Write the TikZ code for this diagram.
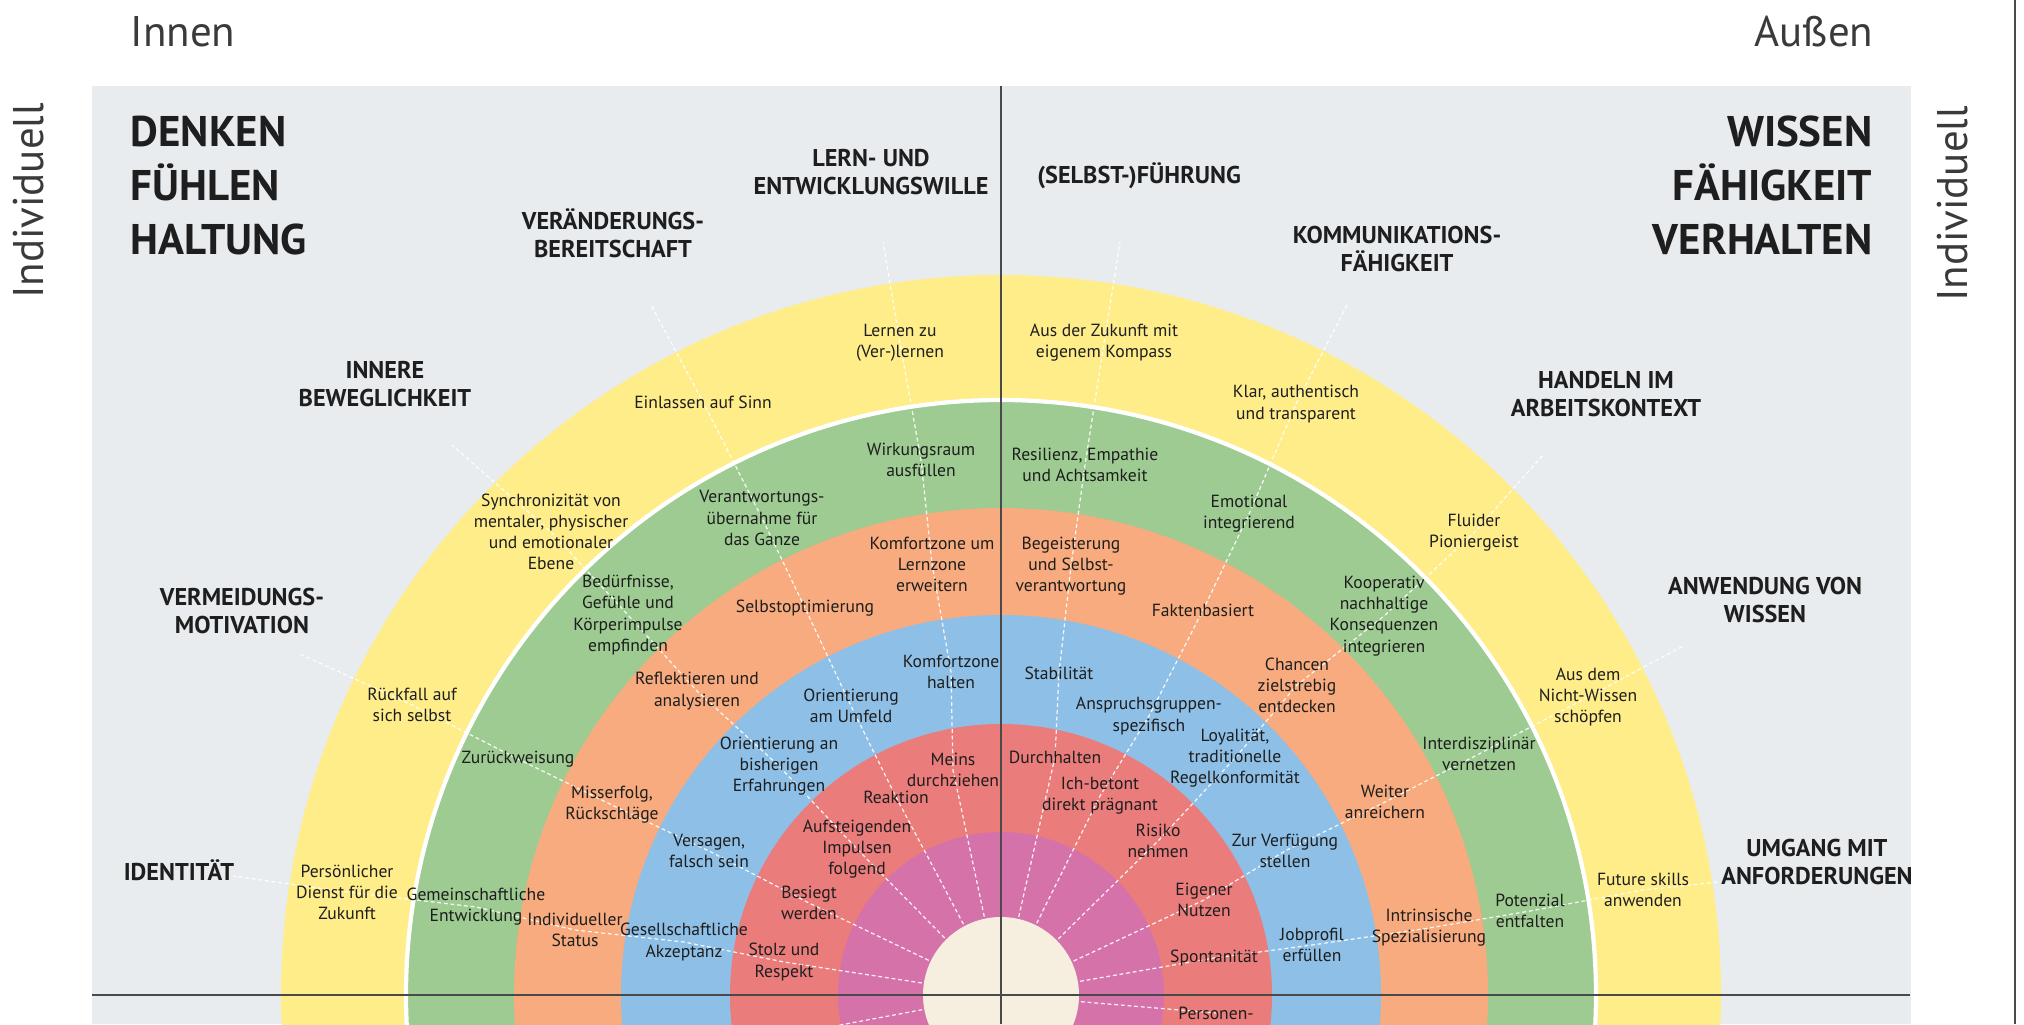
\documentclass[tikz,border=0pt]{standalone}
\usepackage{fontspec}
\setmainfont{PT Sans}
\usetikzlibrary{backgrounds}
\definecolor{bggray}{HTML}{E8ECEF}
\definecolor{ringY}{HTML}{FFED8A}
\definecolor{ringG}{HTML}{9DCB91}
\definecolor{ringO}{HTML}{F7AB7E}
\definecolor{ringB}{HTML}{8EBFE6}
\definecolor{ringR}{HTML}{EA7C7C}
\definecolor{ringM}{HTML}{D672AA}
\definecolor{corebeige}{HTML}{F6EFDF}
\definecolor{inktext}{HTML}{1E1E1E}
\definecolor{sidetext}{HTML}{3A3A3A}
\definecolor{axisgray}{HTML}{4A4A4A}
\tikzset{
	lbl/.style={align=center,inner sep=0pt,text=inktext,font=\fontsize{5}{6}\selectfont},
	head/.style={align=center,inner sep=0pt,text=inktext,font=\bfseries\fontsize{6.9}{8}\selectfont},
	big/.style={inner sep=0pt,text=inktext,font=\bfseries\fontsize{12.2}{15.4}\selectfont},
	side/.style={inner sep=0pt,text=sidetext,font=\fontsize{12.2}{15}\selectfont},
	leader/.style={white,opacity=0.9,line width=0.35pt,line cap=butt,dash pattern=on 1.1pt off 0.8pt},
	axis/.style={axisgray,line width=0.6pt}
}
\begin{document}
\begin{tikzpicture}[x=0.01cm,y=-0.01cm,line join=round,line cap=round]
	\def\rY{720}
	\def\rG{595}
	\def\rO{487}
	\def\rB{380}
	\def\rR{271}
	\def\rM{163}
	\def\rC{78}
	\useasboundingbox (0,0) rectangle (2024,1024);
	\path (1001,995) coordinate (mid)
		(233,876) coordinate (identE)
		(300,654) coordinate (vermeidE)
		(452,445) coordinate (innereE)
		(651,305) coordinate (veraendE)
		(883,242) coordinate (lernE)
		(1120,242) coordinate (fuehrE)
		(1347,305) coordinate (kommuE)
		(1543,455) coordinate (handelE)
		(1683,646) coordinate (anwendE)
		(1718,882) coordinate (umgangE)
		(760,1040) coordinate (lowleftE);
	\node[side,anchor=base west] (innen) at (130,46) {Innen};
	\node[side,anchor=base east] (aussen) at (1874,46) {Außen};
	\node[side,rotate=90] (indivL) at (29,201) {Individuell};
	\node[side,rotate=90] (indivR) at (1953,204) {Individuell};
	\node[big,anchor=north west,align=left] (denken) at (130,115) {DENKEN\\FÜHLEN\\HALTUNG};
	\node[big,anchor=north east,align=right] (wissen) at (1873,115) {WISSEN\\FÄHIGKEIT\\VERHALTEN};
	\node[head] (identH) at (179,870) {IDENTITÄT};
	\node[head] (vermeidH) at (242,611) {VERMEIDUNGS-\\MOTIVATION};
	\node[head] (innereH) at (385,384) {INNERE\\BEWEGLICHKEIT};
	\node[head] (veraendH) at (613,233) {VERÄNDERUNGS-\\BEREITSCHAFT};
	\node[head] (lernH) at (871,172) {LERN- UND\\ENTWICKLUNGSWILLE};
	\node[head] (fuehrH) at (1139,176) {(SELBST-)FÜHRUNG};
	\node[head] (kommuH) at (1397,249) {KOMMUNIKATIONS-\\FÄHIGKEIT};
	\node[head] (handelH) at (1606,394) {HANDELN IM\\ARBEITSKONTEXT};
	\node[head] (anwendH) at (1765,600) {ANWENDUNG VON\\WISSEN};
	\node[head] (umgangH) at (1817,862) {UMGANG MIT\\ANFORDERUNGEN};
	\node[lbl] (identY) at (347,892) {Persönlicher\\Dienst für die\\Zukunft};
	\node[lbl] (identG) at (476,907) {Gemeinschaftliche\\Entwicklung};
	\node[lbl] (identO) at (575,930) {Individueller\\Status};
	\node[lbl] (identB) at (684,942) {Gesellschaftliche\\Akzeptanz};
	\node[lbl] (identR) at (784,962) {Stolz und\\Respekt};
	\node[lbl] (vermeidY) at (412,705) {Rückfall auf\\sich selbst};
	\node[lbl] (vermeidG) at (518,759) {Zurückweisung};
	\node[lbl] (vermeidO) at (612,805) {Misserfolg,\\Rückschläge};
	\node[lbl] (vermeidB) at (709,851) {Versagen,\\falsch sein};
	\node[lbl] (vermeidR) at (809,903) {Besiegt\\werden};
	\node[lbl] (innereY) at (551,532) {Synchronizität von\\mentaler, physischer\\und emotionaler\\Ebene};
	\node[lbl] (innereG) at (628,615) {Bedürfnisse,\\Gefühle und\\Körperimpulse\\empfinden};
	\node[lbl] (innereO) at (697,691) {Reflektieren und\\analysieren};
	\node[lbl] (innereB) at (779,766) {Orientierung an\\bisherigen\\Erfahrungen};
	\node[lbl] (innereR) at (857,849) {Aufsteigenden\\Impulsen\\folgend};
	\node[lbl] (veraendY) at (703,402) {Einlassen auf Sinn};
	\node[lbl] (veraendG) at (762,518) {Verantwortungs-\\übernahme für\\das Ganze};
	\node[lbl] (veraendO) at (805,608) {Selbstoptimierung};
	\node[lbl] (veraendB) at (851,706) {Orientierung\\am Umfeld};
	\node[lbl] (veraendR) at (896,797) {Reaktion};
	\node[lbl] (lernY) at (900,343) {Lernen zu\\(Ver-)lernen};
	\node[lbl] (lernG) at (921,460) {Wirkungsraum\\ausfüllen};
	\node[lbl] (lernO) at (932,564) {Komfortzone um\\Lernzone\\erweitern};
	\node[lbl] (lernB) at (951,672) {Komfortzone\\halten};
	\node[lbl] (lernR) at (953,770) {Meins\\durchziehen};
	\node[lbl] (fuehrY) at (1104,343) {Aus der Zukunft mit\\eigenem Kompass};
	\node[lbl] (fuehrG) at (1085,465) {Resilienz, Empathie\\und Achtsamkeit};
	\node[lbl] (fuehrO) at (1071,566) {Begeisterung\\und Selbst-\\verantwortung};
	\node[lbl] (fuehrB) at (1059,673) {Stabilität};
	\node[lbl] (fuehrR) at (1055,757) {Durchhalten};
	\node[lbl] (kommuY) at (1296,404) {Klar, authentisch\\und transparent};
	\node[lbl] (kommuG) at (1249,514) {Emotional\\integrierend};
	\node[lbl] (kommuO) at (1203,610) {Faktenbasiert};
	\node[lbl] (kommuB) at (1149,716) {Anspruchsgruppen-\\spezifisch};
	\node[lbl] (kommuR) at (1100,796) {Ich-betont\\direkt prägnant};
	\node[lbl] (handelY) at (1474,533) {Fluider\\Pioniergeist};
	\node[lbl] (handelG) at (1384,616) {Kooperativ\\nachhaltige\\Konsequenzen\\integrieren};
	\node[lbl] (handelO) at (1297,685) {Chancen\\zielstrebig\\entdecken};
	\node[lbl] (handelB) at (1235,758) {Loyalität,\\traditionelle\\Regelkonformität};
	\node[lbl] (handelR) at (1158,841) {Risiko\\nehmen};
	\node[lbl] (anwendY) at (1588,697) {Aus dem\\Nicht-Wissen\\schöpfen};
	\node[lbl] (anwendG) at (1479,754) {Interdisziplinär\\vernetzen};
	\node[lbl] (anwendO) at (1385,802) {Weiter\\anreichern};
	\node[lbl] (anwendB) at (1285,851) {Zur Verfügung\\stellen};
	\node[lbl] (anwendR) at (1204,900) {Eigener\\Nutzen};
	\node[lbl] (umgangY) at (1643,890) {Future skills\\anwenden};
	\node[lbl] (umgangG) at (1530,911) {Potenzial\\entfalten};
	\node[lbl] (umgangO) at (1429,928) {Intrinsische\\Spezialisierung};
	\node[lbl] (umgangB) at (1312,945) {Jobprofil\\erfüllen};
	\node[lbl] (umgangR) at (1214,958) {Spontanität};
	\node[lbl,anchor=north] (personen) at (1216,1006) {Personen-};
	\begin{pgfonlayer}{background}
		\fill[bggray] (92,86) rectangle (1911,1024);
		\fill[ringY] (mid) circle[radius=\rY];
		\filldraw[fill=ringG,draw=white,line width=1.2pt] (mid) circle[radius=\rG];
		\fill[ringO] (mid) circle[radius=\rO];
		\fill[ringB] (mid) circle[radius=\rB];
		\fill[ringR] (mid) circle[radius=\rR];
		\fill[ringM] (mid) circle[radius=\rM];
		\foreach \c in {ident,vermeid,innere,veraend,lern,fuehr,kommu,handel,anwend,umgang}
			\draw[leader] (mid) -- (\c R.center) -- (\c B.center) -- (\c O.center)
				-- (\c G.center) -- (\c Y.center) -- (\c E);
		\draw[leader] (mid) -- (personen.center);
		\draw[leader] (mid) -- (lowleftE);
		\fill[corebeige] (mid) circle[radius=\rC];
		\draw[axis] (1001,86) -- (1001,1024);
		\draw[axis] (92,995) -- (1910,995);
		\draw[axis] (2015,0) -- (2015,1024);
	\end{pgfonlayer}
\end{tikzpicture}
\end{document}
